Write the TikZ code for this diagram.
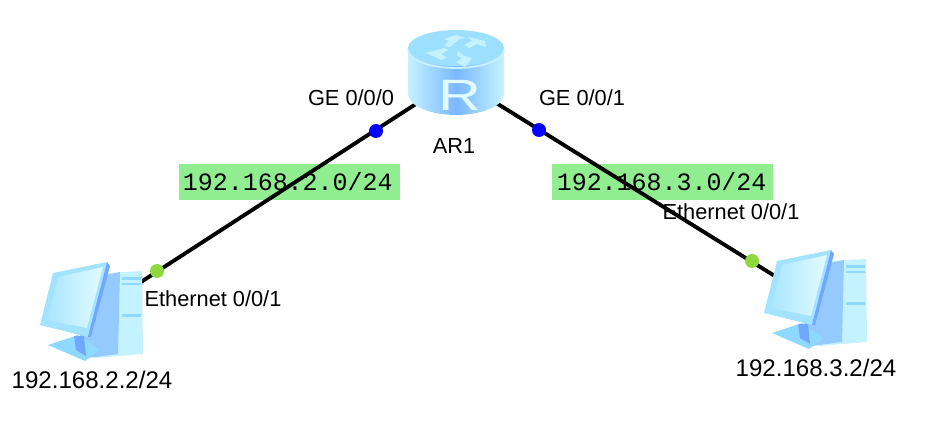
\documentclass[tikz,border=0pt]{standalone}
\usepackage{fontspec}
\setmainfont{Liberation Sans}
\newfontfamily\netfont{Liberation Mono}
\definecolor{netgreen}{HTML}{90EE90}
\definecolor{iconlight}{HTML}{C4F3FF}
\definecolor{iconmid}{HTML}{8FD8FF}
\definecolor{iconblue}{HTML}{6FA8FF}
\definecolor{iconpale}{HTML}{E2FBFF}
\definecolor{portgreen}{HTML}{8FD93F}
\tikzset{
    lbl/.style={font=\fontsize{12.4}{14}\selectfont, inner sep=0pt},
    addr/.style={font=\fontsize{13.7}{15}\selectfont, inner sep=0pt},
    netbox/.style={fill=netgreen, font=\netfont\fontsize{14.2}{16}\selectfont, minimum width=221*0.02cm, minimum height=36*0.02cm, inner sep=0pt},
    link/.style={line width=2.2pt, black},
    portdot/.style={circle, minimum size=14*0.02cm, inner sep=0pt},
    pics/pcicon/.style={code={
        % Tower
        \fill[iconlight] (108,273) -- (142,271) -- (143,354) -- (95,358) -- cycle;
        \fill[iconblue!55!iconlight] (106,275) -- (120,272) -- (118,354) -- (88,358) -- (80,335) -- cycle;
        \fill[iconmid] (122,277) rectangle (141,280);
        \fill[iconmid] (122,283) rectangle (141,285);
        \fill[iconmid] (122,314) rectangle (141,317);
        % Stand
        \fill[iconmid] (48,345) -- (78,335) -- (100,350) -- (85,361) -- cycle;
        \fill[iconblue] (74,336) -- (84,336) -- (86,356) -- (76,350) -- cycle;
        % Monitor
        \fill[iconmid!60!iconlight] (53,273) -- (107,262) -- (88,337) -- (40,325) -- cycle;
        \fill[iconblue] (107,262) -- (110,266) -- (91,337) -- (88,337) -- cycle;
        \shade[left color=iconmid!50!iconlight, right color=iconpale] (58,277) -- (103,267) -- (87,328) -- (47,320) -- cycle;
    }},
}
\begin{document}
\begin{tikzpicture}[x=0.02cm, y=-0.02cm]
    \useasboundingbox (0,0) rectangle (932,432);

    % Networks
    \node[netbox] (netL) at (289.5,182) {\kern-2pt 192.168.2.0/24};
    \node[netbox] (netR) at (662.5,182) {\kern-1pt 192.168.3.0/24};

    % Devices
    \coordinate (AR1) at (456,78);
    \coordinate (PC1) at (90,315);
    \coordinate (PC2) at (815,301);

    % Links
    \draw[link] (AR1) -- (PC1);
    \draw[link] (AR1) -- (PC2);

    % Ports
    \node[portdot, fill=blue] (geL) at (376,131) {};
    \node[portdot, fill=blue] (geR) at (539,130) {};
    \node[portdot, fill=portgreen] (ethL) at (157,271) {};
    \node[portdot, fill=portgreen] (ethR) at (752,261) {};

    % Router
    \shade[left color=iconlight, right color=iconlight, middle color=iconmid!85!blue]
        (408,48) -- (408,94) arc[start angle=180, end angle=0, x radius=48, y radius=21] -- (504,48) -- cycle;
    \fill[iconmid!75!iconlight] (456,48) ellipse[x radius=48, y radius=18];
    \draw[iconlight, line width=1pt] (408,50) arc[start angle=180, end angle=0, x radius=48, y radius=18];
    \fill[iconlight] (456,35) -- (444,39) -- (449,41) -- (444,46) -- (450,47) -- (456,42) -- (459,39) -- (466,38) -- cycle;
    \fill[iconlight] (486,47) -- (485,41) -- (468,37) -- (472,41) -- (464,45) -- (469,48) -- (477,44) -- cycle;
    \fill[iconlight] (426,53) -- (444,48) -- (448,50) -- (441,54) -- (447,58) -- (442,60) -- cycle;
    \fill[iconlight] (465,67) -- (472,58) -- (464,56) -- (458,51) -- (457,56) -- (462,58) -- (456,62) -- cycle;
    \node[font=\fontsize{25}{25}\selectfont, text=iconpale, inner sep=0pt, xscale=1.35] (rLetter) at (460,95) {R};

    % Hosts
    \pic at (0,0) {pcicon};
    \pic at (724,-12) {pcicon};

    % Labels
    \node[lbl] (lblGE0) at (351,98) {GE 0/0/0};
    \node[lbl] (lblGE1) at (582,98) {GE 0/0/1};
    \node[lbl] (lblAR1) at (454,146) {AR1};
    \node[lbl] (lblEthL) at (213,299) {Ethernet 0/0/1};
    \node[lbl] (lblEthR) at (731,212) {Ethernet 0/0/1};
    \node[addr] (lblPC1) at (92,380) {192.168.2.2/24};
    \node[addr] (lblPC2) at (816,368) {192.168.3.2/24};
\end{tikzpicture}
\end{document}
